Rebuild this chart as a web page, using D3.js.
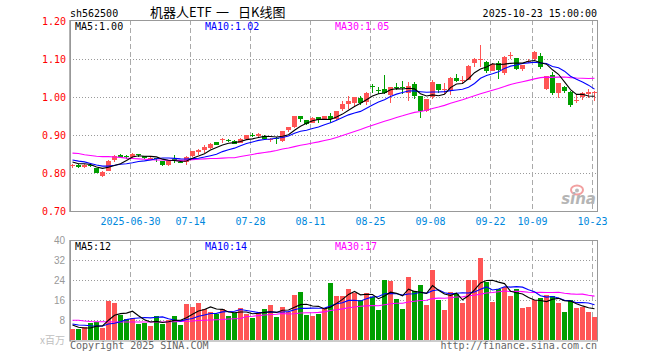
<!DOCTYPE html>
<html><head><meta charset="utf-8">
<script src="https://cdn.jsdelivr.net/npm/d3@7"></script>
<style>body{margin:0;background:#fff}svg{display:block}text{white-space:pre}</style>
</head><body><div id="chart"></div>
<script>
const dates = [
"2025-06-16","2025-06-17","2025-06-18","2025-06-19","2025-06-20","2025-06-23","2025-06-24","2025-06-25","2025-06-26","2025-06-27","2025-06-30",
"2025-07-01","2025-07-02","2025-07-03","2025-07-04","2025-07-07","2025-07-08","2025-07-09","2025-07-10","2025-07-11","2025-07-14","2025-07-15","2025-07-16","2025-07-17","2025-07-18","2025-07-21","2025-07-22","2025-07-23","2025-07-24","2025-07-25","2025-07-28","2025-07-29","2025-07-30","2025-07-31",
"2025-08-01","2025-08-04","2025-08-05","2025-08-06","2025-08-07","2025-08-08","2025-08-11","2025-08-12","2025-08-13","2025-08-14","2025-08-15","2025-08-18","2025-08-19","2025-08-20","2025-08-21","2025-08-22","2025-08-25","2025-08-26","2025-08-27","2025-08-28","2025-08-29",
"2025-09-01","2025-09-02","2025-09-03","2025-09-04","2025-09-05","2025-09-08","2025-09-09","2025-09-10","2025-09-11","2025-09-12","2025-09-15","2025-09-16","2025-09-17","2025-09-18","2025-09-19","2025-09-22","2025-09-23","2025-09-24","2025-09-25","2025-09-26","2025-09-29","2025-09-30",
"2025-10-09","2025-10-10","2025-10-13","2025-10-14","2025-10-15","2025-10-16","2025-10-17","2025-10-20","2025-10-21","2025-10-22","2025-10-23"];

const open  = [0.818,0.823,0.816,0.821,0.814,0.793,0.807,0.835,0.849,0.845,0.842,0.850,0.845,0.837,0.839,0.832,0.821,0.838,0.830,0.830,0.846,0.856,0.861,0.867,0.882,0.888,0.888,0.886,0.881,0.891,0.902,0.897,0.899,0.888,0.894,0.885,0.914,0.921,0.951,0.940,0.933,0.947,0.940,0.951,0.942,0.969,0.982,0.984,0.999,0.987,1.031,1.020,1.022,1.006,1.027,1.026,1.012,1.035,1.003,0.964,1.000,1.035,1.018,1.019,1.050,1.042,1.046,1.089,1.099,1.093,1.070,1.089,1.065,1.108,1.103,1.075,1.095,1.100,1.109,1.021,1.060,1.012,1.028,1.015,0.992,1.002,1.009,1.011];
const high  = [0.825,0.824,0.825,0.824,0.815,0.805,0.835,0.848,0.852,0.848,0.853,0.850,0.846,0.842,0.840,0.833,0.834,0.848,0.831,0.846,0.860,0.865,0.874,0.880,0.883,0.893,0.889,0.887,0.892,0.901,0.905,0.905,0.900,0.894,0.895,0.912,0.923,0.952,0.952,0.941,0.947,0.948,0.952,0.960,0.965,0.990,1.003,1.002,1.004,1.014,1.035,1.026,1.058,1.028,1.037,1.042,1.040,1.040,1.004,0.996,1.045,1.036,1.037,1.054,1.061,1.056,1.084,1.103,1.138,1.095,1.090,1.096,1.110,1.119,1.104,1.086,1.100,1.123,1.116,1.057,1.067,1.038,1.029,1.016,1.006,1.014,1.021,1.017];
const low   = [0.815,0.813,0.814,0.816,0.800,0.789,0.805,0.830,0.840,0.837,0.840,0.844,0.838,0.835,0.830,0.820,0.819,0.828,0.828,0.823,0.843,0.847,0.853,0.865,0.874,0.880,0.882,0.876,0.879,0.889,0.896,0.895,0.887,0.882,0.877,0.882,0.910,0.920,0.935,0.926,0.932,0.932,0.939,0.933,0.941,0.963,0.969,0.977,0.979,0.980,1.011,1.010,1.010,0.986,1.019,1.010,0.991,0.996,0.946,0.962,0.995,1.012,1.010,1.007,1.039,1.035,1.045,1.079,1.079,1.065,1.069,1.047,1.060,1.100,1.072,1.068,1.090,1.098,1.074,1.018,1.007,0.999,1.011,0.975,0.986,0.993,0.999,0.991];
const close = [0.823,0.816,0.823,0.820,0.802,0.8035,0.832,0.846,0.842,0.844,0.851,0.848,0.839,0.841,0.837,0.821,0.833,0.837,0.829,0.842,0.858,0.861,0.868,0.877,0.875,0.891,0.884,0.877,0.891,0.900,0.901,0.903,0.891,0.890,0.893,0.911,0.922,0.951,0.943,0.930,0.945,0.940,0.951,0.942,0.964,0.982,0.990,1.001,0.984,1.012,1.030,1.019,1.012,1.027,1.026,1.025,1.030,1.003,0.964,0.995,1.040,1.019,1.021,1.052,1.044,1.045,1.082,1.101,1.101,1.070,1.087,1.072,1.107,1.111,1.075,1.085,1.096,1.118,1.081,1.056,1.011,1.037,1.017,0.980,0.994,1.011,1.015,1.013];
const volume = [4.3,4.3,5.1,6.7,7.3,4.9,15.6,14.9,10.1,8.3,8.7,6.4,6.9,5.6,9.6,6.4,8.0,9.6,6.0,14.5,13.2,14.9,12.3,11.3,10.4,12.4,9.6,10.7,12.8,10.5,8.9,10.7,12.4,14.0,9.2,13.2,11.1,18.0,19.2,10.0,9.6,10.5,12.8,22.8,17.6,17.6,20.4,18.7,16.0,18.7,17.3,12.0,24.0,23.6,16.4,12.4,25.2,19.6,22.0,14.0,28.0,16.0,12.0,19.1,18.4,14.9,24.0,24.0,32.8,23.3,15.3,20.3,21.1,17.6,20.3,12.8,13.2,16.0,16.8,18.0,17.6,14.9,11.3,16.0,12.8,13.2,11.3,9.2];

const ma5Head  = [0.830,0.825,0.825,0.823];
const ma10Head = [0.835,0.832,0.830,0.826,0.822,0.819,0.819,0.821,0.824];
const ma30Head = [0.853,0.852,0.849,0.847,0.845,0.844,0.844,0.843,0.842,0.840,0.839,0.838,0.837,0.836,0.835,0.835,0.834,0.834,0.834,0.835,0.836,0.837,0.838,0.839,0.839,0.840,0.841,0.841,0.844];
const vma5Head  = [6.0,5.1,4.8,4.8];
const vma10Head = [6.4,6.0,5.9,5.7,5.6,5.6,6.4,6.7,7.3];
const vma30Head = [7.9,7.9,7.6,7.4,7.3,7.3,7.3,7.2,7.2,7.2,7.2,7.2,7.2,7.2,7.2,7.2,7.3,7.3,7.4,7.5,7.6,7.8,7.9,8.0,8.1,8.2,8.4,8.5,8.6];

const priceTicks = [0.70,0.80,0.90,1.00,1.10,1.20];
const volTicks = [8,16,24,32,40];
const dateTicks = ["2025-06-30","2025-07-14","2025-07-28","2025-08-11","2025-08-25","2025-09-08","2025-09-22","2025-10-09","2025-10-23"];
const dateTickLabels = ["2025-06-30","07-14","07-28","08-11","08-25","09-08","09-22","10-09","10-23"];

const symbol = "sh562500";
const titleParts = ["机器人ETF","一","日K线图"];
const timeStamp = "2025-10-23 15:00:00";
const priceMaLabels = ["MA5:1.00","MA10:1.02","MA30:1.05"];
const volMaLabels = ["MA5:12","MA10:14","MA30:17"];

function movingAvg(arr, n, head){
  return arr.map((v,i)=> i < n-1 ? head[i] : d3.mean(arr.slice(i-n+1, i+1)));
}

const W=660, H=360;
const L=70, R=597;
const pTop=20, pBot=211, vTop=240, vBot=340.5;
const RED="#ff5555", GREEN="#009f00";
const maColors=["#000000","#0000ff","#ff00ff"];
const mono="'DejaVu Sans Mono', monospace";

const svg=d3.select("#chart").append("svg").attr("width",W).attr("height",H);

const x=d3.scaleBand().domain(dates).range([L-0.5, R+0.5]).padding(0);
const y=d3.scaleLinear().domain([0.7,1.2]).range([211.3,21.3]);
const yv=d3.scaleLinear().domain([0,40]).range([340,240]);
const cx=d=>x(d)+3;

// ---- grids
function grid(top,bot,hVals,yS){
  const g=svg.append("g");
  g.selectAll("line.h").data(hVals).enter().append("line")
    .attr("x1",L).attr("x2",R)
    .attr("y1",d=>Math.round(yS(d))+0.5).attr("y2",d=>Math.round(yS(d))+0.5)
    .attr("stroke","#9a9a9a").attr("stroke-dasharray","1,2");
  g.selectAll("line.v").data(dateTicks).enter().append("line")
    .attr("x1",d=>x(d)+1).attr("x2",d=>x(d)+1)
    .attr("y1",top).attr("y2",bot)
    .attr("stroke","#aaaaaa").attr("stroke-dasharray","5,3");
}
grid(pTop,pBot,[0.8,0.9,1.0,1.1],y);
grid(vTop,vBot,[8,16,24,32],yv);

// ---- sina watermark
const wm=svg.append("g");
wm.append("ellipse").attr("cx",577).attr("cy",190).attr("rx",6).attr("ry",4.5)
  .attr("fill","none").attr("stroke","#f2a0a0").attr("stroke-width",2);
wm.append("circle").attr("cx",577).attr("cy",190.5).attr("r",2).attr("fill","#bbb");
wm.append("text").attr("x",596).attr("y",204).attr("text-anchor","end")
  .attr("font-family","'DejaVu Sans', sans-serif").attr("font-style","italic").attr("font-weight","bold")
  .attr("font-size",15).attr("fill","#b5b5b5").text("sina");

// ---- frames
[[pTop,pBot],[vTop,vBot]].forEach(([t,b])=>{
  svg.append("rect").attr("x",L+0.5).attr("y",t+0.5).attr("width",R-L).attr("height",b-t)
    .attr("fill","none").attr("stroke","#999").attr("stroke-width",1);
});
svg.append("line").attr("x1",L).attr("x2",L).attr("y1",pTop).attr("y2",pBot+1).attr("stroke","#999").attr("stroke-width",1.5);
svg.append("line").attr("x1",L).attr("x2",L).attr("y1",vTop).attr("y2",vBot+1).attr("stroke","#999").attr("stroke-width",1.5);

// ---- candles
const data=dates.map((d,i)=>({d,o:open[i],h:high[i],l:low[i],c:close[i],v:volume[i]}));
const col=d=>d.c>=d.o?RED:GREEN;
const cg=svg.append("g");
cg.selectAll("line.w").data(data).enter().append("line")
  .attr("x1",d=>cx(d.d)).attr("x2",d=>cx(d.d))
  .attr("y1",d=>y(d.h)).attr("y2",d=>y(d.l))
  .attr("stroke",col).attr("stroke-width",1).attr("shape-rendering","crispEdges");
cg.selectAll("rect").data(data).enter().append("rect")
  .attr("x",d=>x(d.d)+0.5).attr("width",5)
  .attr("y",d=>y(Math.max(d.o,d.c)))
  .attr("height",d=>Math.max(1,Math.abs(y(d.o)-y(d.c))))
  .attr("fill",col).attr("shape-rendering","crispEdges");

// ---- volume bars
svg.append("g").selectAll("rect").data(data).enter().append("rect")
  .attr("x",d=>x(d.d)+0.5).attr("width",5)
  .attr("y",d=>yv(d.v)).attr("height",d=>yv(0)-yv(d.v))
  .attr("fill",col).attr("shape-rendering","crispEdges");

// ---- MA lines
const pMA=[movingAvg(close,5,ma5Head),movingAvg(close,10,ma10Head),movingAvg(close,30,ma30Head)];
const vMA=[movingAvg(volume,5,vma5Head),movingAvg(volume,10,vma10Head),movingAvg(volume,30,vma30Head)];
const lineP=d3.line().x((v,i)=>cx(dates[i])).y(v=>y(v));
const lineV=d3.line().x((v,i)=>cx(dates[i])).y(v=>yv(v));
[2,1,0].forEach(k=>{
  svg.append("path").attr("d",lineP(pMA[k])).attr("fill","none").attr("stroke",maColors[k]).attr("stroke-width",1.1);
  svg.append("path").attr("d",lineV(vMA[k])).attr("fill","none").attr("stroke",maColors[k]).attr("stroke-width",1.1);
});

// ---- texts
function txt(xp,yp,s,opt={}){
  return svg.append("text").attr("x",xp).attr("y",yp)
    .attr("font-family",opt.font||mono).attr("font-size",opt.size||10)
    .attr("fill",opt.fill||"#000").attr("text-anchor",opt.anchor||"start").text(s);
}
txt(70,16.5,symbol);
const titleX=[150,216,238];
titleParts.forEach((s,i)=>txt(titleX[i],17,s,{font:"'Noto Sans CJK SC', sans-serif",size:13}));
txt(597,16.5,timeStamp,{anchor:"end"});

priceTicks.forEach(v=>txt(66,y(v)+3.6,v.toFixed(2),{fill:"#ff0000",anchor:"end"}));
volTicks.forEach(v=>txt(65,yv(v)+3.6,String(v),{font:"'Liberation Sans', Arial, sans-serif",fill:"#999",anchor:"end"}));
txt(65,344,"x百万",{font:"'Noto Sans CJK SC', sans-serif",fill:"#c0c0c0",anchor:"end",size:10});

dateTicks.forEach((d,i)=>txt(x(d)+1,225,dateTickLabels[i],{fill:"#0088dd",anchor:"middle"}));

const maX=[75,205,335];
priceMaLabels.forEach((s,i)=>txt(maX[i],29.5,s,{fill:maColors[i]}));
volMaLabels.forEach((s,i)=>txt(maX[i],249.5,s,{fill:maColors[i]}));

txt(70,349,"Copyright 2025 SINA.COM",{fill:"#666"});
txt(597,349,"http://finance.sina.com.cn",{fill:"#666",anchor:"end"});
</script>
</body></html>
